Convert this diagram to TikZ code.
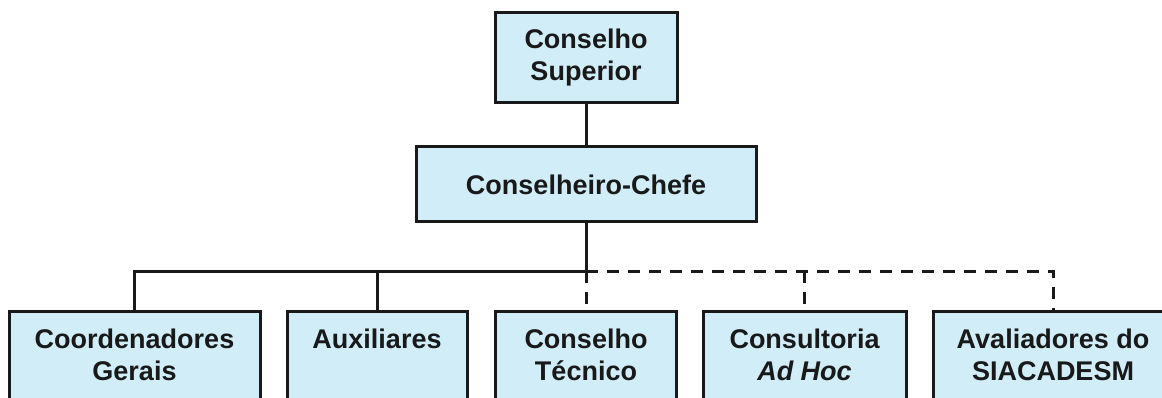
\documentclass[tikz,border=0pt]{standalone}
\usepackage{fontspec}
\setmainfont{Liberation Sans}
\usetikzlibrary{positioning}
\definecolor{boxblue}{RGB}{208,237,248}
\newcommand{\boxfoot}{\rule[-40pt]{0pt}{40pt}}

\begin{document}
\begin{tikzpicture}
    [x=1pt,y=-1pt,node distance=126.5pt,on grid,
    every node/.style={font=\fontsize{27}{32}\selectfont\bfseries,text=black!90},
    org/.style={draw=black!90,line width=3pt,fill=boxblue,align=center,inner sep=0pt},
    unit/.style={org,anchor=north,inner ysep=17pt},
    link/.style={line width=3pt,draw=black!90},
    advice/.style={link,dash pattern=on 12pt off 9pt}]
    \useasboundingbox (0,0) rectangle (1162,398);
    \clip (0,0) rectangle (1162,398);
    % topo do organograma
    \node [org,minimum width=182pt,minimum height=90pt] (sup) at (586,58) {Conselho\\Superior};
    \node [org,minimum width=340pt,minimum height=75pt] (chefe) [below=of sup] {Conselheiro-Chefe};
    % linha de baixo, as caixas passam da borda
    \node [unit,minimum width=251pt] (coord) at (134.5,310) {Coordenadores\\Gerais\boxfoot};
    \node [unit,minimum width=180pt] (aux) at (377,310) {Auxiliares\\\boxfoot};
    \node [unit,minimum width=181pt] (tecnico) at (586,310) {Conselho\\T\'ecnico\boxfoot};
    \node [unit,minimum width=203pt] (consult) at (804.5,310) {Consultoria\\\textit{Ad Hoc}\boxfoot};
    \node [unit,minimum width=240pt] (aval) at (1053,310) {Avaliadores do\\SIACADESM\boxfoot};
    % ligacoes
    \coordinate (bus) at (586,271);
    \draw [link] (sup) -- (chefe);
    \draw [advice] (bus) -- (tecnico.north);
    \draw [advice] (bus) -| (aval.north);
    \draw [advice] (bus -| consult.north) -- (consult.north);
    \draw [link] (chefe.south) -- (bus) -| (coord.north);
    \draw [link] (bus -| aux.north) -- (aux.north);
\end{tikzpicture}
\end{document}
